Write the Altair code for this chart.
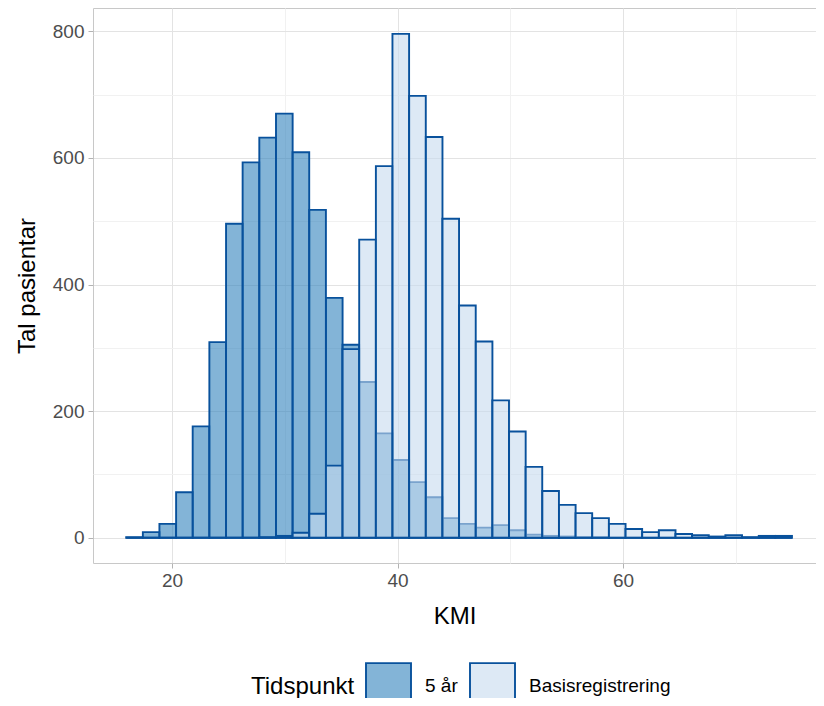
import altair as alt
import pandas as pd

# Histogram bin centres (KMI) and counts
centers = [16.67, 18.15, 19.62, 21.10, 22.57, 24.05, 25.53, 27.00, 28.48, 29.96,
           31.43, 32.91, 34.39, 35.86, 37.34, 38.82, 40.29, 41.77, 43.25, 44.72,
           46.20, 47.68, 49.15, 50.63, 52.10, 53.58, 55.06, 56.53, 58.01, 59.49,
           60.96, 62.44, 63.92, 65.39, 66.87, 68.35, 69.82, 71.30, 72.78, 74.25]
binwidth = 1.476

five_years = [1, 9, 22, 72, 176, 309, 496, 593, 632, 670,
              609, 518, 379, 305, 246, 165, 123, 88, 64, 31,
              22, 16, 20, 12, 5, 3, 2, 1, 1, 0,
              0, 0, 0, 0, 0, 0, 0, 0, 0, 0]
baseline = [0, 0, 0, 0, 0, 0, 0, 0, 1, 3,
            8, 38, 114, 298, 471, 587, 796, 698, 633, 504,
            367, 310, 217, 168, 112, 74, 52, 39, 31, 22,
            14, 9, 12, 6, 4, 2, 4, 1, 3, 3]
groups = ["5 år", "Basisregistrering"]
fills = ["#3182bd", "#c6dbef"]          # drawn at 60 % opacity
legend_fills = ["#83b4d7", "#dde9f5"]   # the same colours as seen on white

rows = []
for g, counts in [(groups[0], five_years), (groups[1], baseline)]:
    for c, n in zip(centers, counts):
        rows.append({"lo": c - binwidth / 2, "hi": c + binwidth / 2, "n": n, "grp": g})
df = pd.DataFrame(rows)

x_grid = [20, 30, 40, 50, 60, 70]
y_grid = [0, 100, 200, 300, 400, 500, 600, 700, 800]

x_enc = alt.X("lo:Q", title="KMI",
              scale=alt.Scale(domain=[12.99, 77.12], nice=False, zero=False),
              axis=alt.Axis(values=x_grid,
                            labelExpr="datum.value % 20 === 0 ? datum.label : ''",
                            tickOpacity={"condition": {"test": "datum.value % 20 === 0", "value": 1}, "value": 0},
                            gridColor={"condition": {"test": "datum.value % 20 === 0", "value": "#e3e3e3"}, "value": "#f1f1f1"},
                            labelPadding=3, titlePadding=14))
y_enc = alt.Y("n:Q", title="Tal pasientar",
              scale=alt.Scale(domain=[-39.8, 836.8], nice=False, zero=False),
              axis=alt.Axis(values=y_grid,
                            labelExpr="datum.value % 200 === 0 ? datum.label : ''",
                            tickOpacity={"condition": {"test": "datum.value % 200 === 0", "value": 1}, "value": 0},
                            gridColor={"condition": {"test": "datum.value % 200 === 0", "value": "#e3e3e3"}, "value": "#f1f1f1"},
                            labelPadding=4, titlePadding=13))

legend_def = alt.Legend(
    orient="none", legendX=158, legendY=654, direction="horizontal",
    titleOrient="left", symbolType="square", symbolSize=2025,
    symbolStrokeColor="#08519c", symbolStrokeWidth=1.9, symbolOpacity=1,
    labelFontSize=19, titleFontSize=24, labelOffset=13, columnPadding=8,
    titlePadding=10, labelFont="Liberation Sans", titleFont="Liberation Sans",
    titleFontWeight="normal", labelColor="#000000", titleColor="#000000",
)

bars = alt.Chart(df).mark_rect(stroke="#08519c", strokeWidth=1.9, fillOpacity=0.6).encode(
    x=x_enc, x2="hi:Q", y=y_enc, y2=alt.datum(0),
    fill=alt.Fill("grp:N", scale=alt.Scale(domain=groups, range=fills), legend=None),
)

legend_layer = alt.Chart(df).transform_filter("false").mark_rect(
    stroke="#08519c", strokeWidth=1.9
).encode(
    x=x_enc, x2="hi:Q", y=y_enc, y2=alt.datum(0),
    fill=alt.Fill("grp:N", title="Tidspunkt",
                  scale=alt.Scale(domain=groups, range=legend_fills), legend=legend_def),
)

chart = alt.layer(bars, legend_layer).resolve_scale(fill="independent").properties(
    width=723, height=555,
    autosize=alt.AutoSizeParams(type="none"),
    padding={"left": 85, "top": 0, "right": 0, "bottom": 135},
).configure_view(
    stroke="#c8c8c8", strokeWidth=1
).configure_axis(
    domain=False, tickColor="#b3b3b3", tickSize=5,
    labelFont="Liberation Sans", labelFontSize=19, labelColor="#4d4d4d",
    titleFont="Liberation Sans", titleFontSize=24, titleFontWeight="normal", titleColor="#000000",
    gridWidth=1,
)

chart.save("out.html", embed_options={"renderer": "svg", "actions": False})
